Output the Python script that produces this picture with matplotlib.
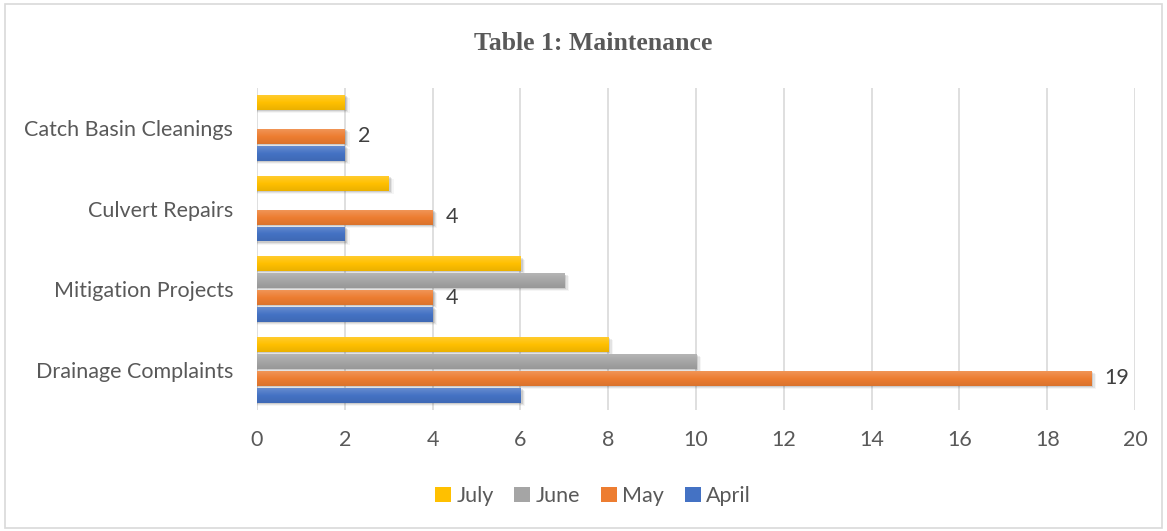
import matplotlib
matplotlib.use("Agg")
import matplotlib.pyplot as plt
import numpy as np
from matplotlib.patches import Rectangle
import matplotlib.colors as mcolors

categories = ["Drainage Complaints", "Mitigation Projects", "Culvert Repairs", "Catch Basin Cleanings"]
series_names = ["April", "May", "June", "July"]
april = [6, 4, 2, 2]
may = [19, 4, 4, 2]
june = [10, 7, 0, 0]
july = [8, 6, 3, 2]
values = [april, may, june, july]
colors = ["#4472C4", "#ED7D31", "#A5A5A5", "#FFC000"]
xticks = list(range(0, 21, 2))

plt.rcParams['font.family'] = ['Lato', 'DejaVu Sans']
fig = plt.figure(figsize=(11.67, 5.31), dpi=100)
ax = fig.add_axes([0.2202, 0.2275, 0.7524, 0.6075])

y = np.arange(len(categories))
step = 0.21
h = 0.185
offsets = [-1.5 * step, -0.5 * step, 0.5 * step, 1.5 * step]

def lighten(c, f):
    r, g, b = mcolors.to_rgb(c)
    return (r + (1 - r) * f, g + (1 - g) * f, b + (1 - b) * f)

def darken(c, f):
    r, g, b = mcolors.to_rgb(c)
    return (r * (1 - f), g * (1 - f), b * (1 - f))

for vals, col, off, name in zip(values, colors, offsets, series_names):
    ys = y + off
    # soft shadow
    for k, a in enumerate([0.10, 0.07, 0.04]):
        ax.barh(ys - 0.015 - 0.012 * k, [v + 0.05 + 0.03 * k if v > 0 else 0 for v in vals], height=h,
                color=(0, 0, 0, a), zorder=2, linewidth=0)
    bars = ax.barh(ys, vals, height=h, color=col, zorder=3, linewidth=0, label=name)
    for bar, v in zip(bars, vals):
        if v <= 0:
            continue
        x0, y0 = bar.get_x(), bar.get_y()
        grad = np.linspace(0, 1, 50).reshape(-1, 1)
        cmap = mcolors.LinearSegmentedColormap.from_list("g", [darken(col, 0.08), col, lighten(col, 0.18)])
        im = ax.imshow(grad, extent=[x0, x0 + v, y0, y0 + h], origin="lower", aspect="auto",
                       cmap=cmap, zorder=3.5)
        im.set_clip_path(bar)
    if name == "May":
        for yy, v in zip(ys, vals):
            ax.text(v + 0.31, yy, str(v), va="center", ha="left", fontsize=15.5, color="#404040", zorder=5)

ax.set_xlim(0, 20)
ax.set_ylim(-0.5, len(categories) - 0.5)
ax.set_xticks(xticks)
ax.set_xticklabels([str(t) for t in xticks])
ax.set_yticks(y)
ax.set_yticklabels(categories)
ax.tick_params(axis="both", length=0, labelsize=15.5, colors="#595959")
ax.tick_params(axis="x", pad=14)
ax.tick_params(axis="y", pad=17)
ax.grid(axis="x", color="#D9D9D9", linewidth=1.2, zorder=0)
ax.set_axisbelow(True)
for s in ax.spines.values():
    s.set_visible(False)

fig.text(0.508, 0.919, "Table 1: Maintenance", ha="center", va="center", fontsize=18.5,
         fontweight="bold", family="Liberation Serif", color="#595959")

handles, labels = ax.get_legend_handles_labels()
leg = fig.legend(handles[::-1], labels[::-1], loc="center", bbox_to_anchor=(0.508, 0.066), ncol=4,
                 frameon=False, fontsize=15.5, handlelength=0.75, handleheight=0.75,
                 columnspacing=0.95, handletextpad=0.25, labelcolor="#595959")

fig.patches.append(Rectangle((0.004, 0.006), 0.992, 0.986, transform=fig.transFigure,
                             fill=False, edgecolor="#D9D9D9", linewidth=1.2))
fig.savefig("out.png", dpi=100, facecolor="white")
